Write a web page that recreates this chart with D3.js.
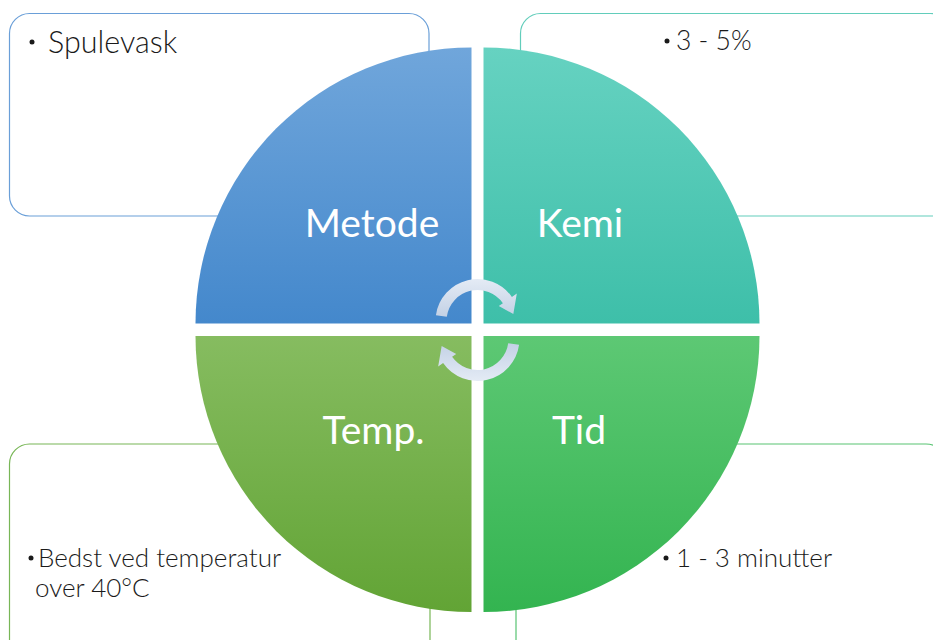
<!DOCTYPE html>
<html>
<head>
<meta charset="utf-8">
<script src="https://cdn.jsdelivr.net/npm/d3@7"></script>
<style>
  html, body { margin: 0; padding: 0; background: #ffffff; }
  svg { display: block; }
</style>
</head>
<body>
<svg id="chart" width="933" height="640"></svg>
<script>
// ---- data ----
const categories = ["Metode", "Kemi", "Temp.", "Tid"];
const details = [["Spulevask"], ["3 - 5%"], ["Bedst ved temperatur", "over 40°C"], ["1 - 3 minutter"]];
const quadrants = ["tl", "tr", "bl", "br"];
const colorsTop = ["#70a6db", "#66d2c1", "#86bc60", "#5dc874"];
const colorsBottom = ["#4488cc", "#3ebfa9", "#62a435", "#33b450"];
const strokeColors = ["#6a9fd8", "#62cdbb", "#78b656", "#58c472"];

const W = 933, H = 640;
const svg = d3.select("#chart");
const defs = svg.append("defs");

// layout constants
const cx = 477.5, cy = 330, gap = 6, R = 276;
const centers = {
  tl: [cx - gap, cy - gap - 0.5],
  tr: [cx + gap, cy - gap - 0.5],
  bl: [cx - gap, cy + gap],
  br: [cx + gap, cy + gap]
};
const angles = {
  tl: [-Math.PI / 2, 0],
  tr: [0, Math.PI / 2],
  br: [Math.PI / 2, Math.PI],
  bl: [Math.PI, 1.5 * Math.PI]
};
const boxes = {
  tl: {x: 9.5, y: 13.5, w: 419.5, h: 202.5},
  tr: {x: 520.5, y: 13.5, w: 430, h: 202.5},
  bl: {x: 9.5, y: 444, w: 420.5, h: 230},
  br: {x: 516, y: 444, w: 430, h: 230}
};
const bodyText = {
  tl: {x: 48, y: 53, bx: 32, fs: 30.5, by: 42},
  tr: {x: 676, y: 50, bx: 667, fs: 26.5, by: 41},
  bl: {x: 38, y: 567, bx: 31, x2: 35, fs: 26, by: 558},
  br: {x: 676, y: 567, bx: 666, fs: 26, by: 558}
};
const labelPos = {
  tl: [372, 237], tr: [580, 237], bl: [373.5, 444], br: [579, 444]
};

// gradients
quadrants.forEach((q, i) => {
  const g = defs.append("linearGradient").attr("id", "grad-" + q)
    .attr("x1", 0).attr("y1", 0).attr("x2", 0).attr("y2", 1);
  g.append("stop").attr("offset", "0%").attr("stop-color", colorsTop[i]);
  g.append("stop").attr("offset", "100%").attr("stop-color", colorsBottom[i]);
});
const ag = defs.append("linearGradient").attr("id", "grad-arrow")
  .attr("x1", 0).attr("y1", 0).attr("x2", 0).attr("y2", 1);
ag.append("stop").attr("offset", "0%").attr("stop-color", "#e4ebf5");
ag.append("stop").attr("offset", "100%").attr("stop-color", "#c3d1e5");

// text boxes
const boxG = svg.append("g");
quadrants.forEach((q, i) => {
  const b = boxes[q];
  boxG.append("rect")
    .attr("x", b.x).attr("y", b.y).attr("width", b.w).attr("height", b.h)
    .attr("rx", 20).attr("ry", 20)
    .attr("fill", "#ffffff").attr("stroke", strokeColors[i]).attr("stroke-width", 1.2);
  const t = bodyText[q];
  boxG.append("circle").attr("cx", t.bx).attr("cy", t.by).attr("r", 2.5).attr("fill", "#1a1a1a");
  details[i].forEach((line, j) => {
    boxG.append("text")
      .attr("x", j === 0 ? t.x : t.x2)
      .attr("y", t.y + j * 30)
      .attr("font-family", "Lato, 'Open Sans', sans-serif")
      .attr("font-weight", 300)
      .attr("font-size", t.fs)
      .attr("fill", "#1a1a1a")
      .text(line);
  });
});

// quadrants
const arc = d3.arc().innerRadius(0).outerRadius(R);
const qG = svg.append("g");
quadrants.forEach((q, i) => {
  const [x, y] = centers[q];
  qG.append("path")
    .attr("transform", `translate(${x},${y})`)
    .attr("d", arc({startAngle: angles[q][0], endAngle: angles[q][1]}))
    .attr("fill", `url(#grad-${q})`);
  qG.append("text")
    .attr("x", labelPos[q][0]).attr("y", labelPos[q][1])
    .attr("text-anchor", "middle")
    .attr("font-family", "Lato, 'Open Sans', sans-serif")
    .attr("font-size", 39)
    .attr("fill", "#ffffff")
    .text(categories[i]);
});

// circular arrows
function arrowPath(acx, acy) {
  const rIn = 31, rOut = 42, rMid = 36.5;
  const hIn = 26, hOut = 48;
  const a0 = 172 * Math.PI / 180, a1 = 35 * Math.PI / 180, aTip = 11 * Math.PI / 180;
  const pt = (r, a) => [acx + r * Math.cos(a), acy - r * Math.sin(a)];
  const p = d3.path();
  let s = pt(rOut, a0); p.moveTo(s[0], s[1]);
  p.arc(acx, acy, rOut, -a0, -a1, false);
  let h1 = pt(hOut, a1); p.lineTo(h1[0], h1[1]);
  let tip = pt(rMid, aTip); p.lineTo(tip[0], tip[1]);
  let h2 = pt(hIn, a1); p.lineTo(h2[0], h2[1]);
  let e = pt(rIn, a1); p.lineTo(e[0], e[1]);
  p.arc(acx, acy, rIn, -a1, -a0, true);
  p.closePath();
  return p.toString();
}
const arrowG = svg.append("g");
arrowG.append("path").attr("d", arrowPath(cx, cy - 9)).attr("fill", "url(#grad-arrow)");
arrowG.append("path").attr("d", arrowPath(cx, cy - 9))
  .attr("transform", `rotate(180 ${cx} ${cy})`).attr("fill", "url(#grad-arrow)");
</script>
</body>
</html>
